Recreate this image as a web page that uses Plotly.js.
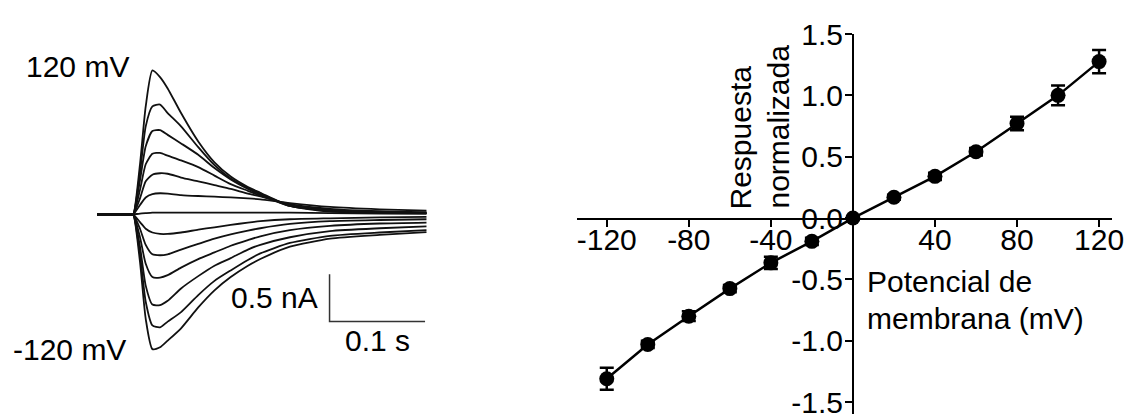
<!DOCTYPE html>
<html>
<head>
<meta charset="utf-8">
<script src="https://cdn.plot.ly/plotly-3.0.1.min.js"></script>
<style>
  html, body { margin: 0; padding: 0; background: #ffffff; }
  #chart { width: 1126px; height: 414px; }
</style>
</head>
<body>
<div id="chart"></div>
<script>
// ---------- Left panel: current traces (time in s, current in nA) ----------
const timeS = [-0.038, -0.002, 0, 0.007, 0.013, 0.02, 0.028, 0.036, 0.05, 0.068, 0.085, 0.102, 0.12, 0.133, 0.164, 0.206, 0.258, 0.307];
const stepLabels = ['120 mV', '100 mV', '80 mV', '60 mV', '40 mV', '20 mV', '0 mV', '-20 mV', '-40 mV', '-60 mV', '-80 mV', '-100 mV', '-120 mV'];
const iP120 = [0, 0, 0, 0.53, 1.14, 1.52, 1.45, 1.33, 1.07, 0.77, 0.55, 0.40, 0.29, 0.23, 0.09, 0.03, 0.015, 0.01];
const iP100 = [0, 0, 0, 0.44, 0.93, 1.14, 1.16, 1.07, 0.93, 0.71, 0.52, 0.38, 0.28, 0.22, 0.09, 0.04, 0.02, 0.015];
const iP80  = [0, 0, 0, 0.36, 0.72, 0.88, 0.89, 0.84, 0.75, 0.63, 0.49, 0.37, 0.27, 0.21, 0.09, 0.04, 0.02, 0.015];
const iP60  = [0, 0, 0, 0.26, 0.53, 0.64, 0.65, 0.62, 0.57, 0.50, 0.41, 0.32, 0.25, 0.20, 0.10, 0.05, 0.025, 0.015];
const iP40  = [0, 0, 0, 0.17, 0.35, 0.42, 0.435, 0.43, 0.39, 0.35, 0.31, 0.27, 0.22, 0.19, 0.11, 0.06, 0.035, 0.025];
const iP20  = [0, 0, 0, 0.10, 0.18, 0.215, 0.224, 0.22, 0.205, 0.195, 0.188, 0.18, 0.17, 0.16, 0.12, 0.08, 0.055, 0.04];
const i0    = [0, 0, 0, 0.01, 0.015, 0.02, 0.02, 0.02, 0.02, 0.02, 0.02, 0.02, 0.02, 0.02, 0.02, 0.015, 0.01, 0.01];
const iN20  = [0, 0, 0, -0.08, -0.15, -0.19, -0.205, -0.205, -0.19, -0.16, -0.135, -0.11, -0.085, -0.07, -0.05, -0.04, -0.03, -0.025];
const iN40  = [0, 0, 0, -0.15, -0.32, -0.42, -0.43, -0.42, -0.37, -0.31, -0.255, -0.21, -0.17, -0.145, -0.10, -0.07, -0.058, -0.05];
const iN60  = [0, 0, 0, -0.24, -0.52, -0.66, -0.665, -0.64, -0.56, -0.47, -0.40, -0.33, -0.27, -0.23, -0.165, -0.12, -0.095, -0.085];
const iN80  = [0, 0, 0, -0.34, -0.75, -0.95, -0.955, -0.91, -0.78, -0.65, -0.54, -0.46, -0.37, -0.32, -0.24, -0.175, -0.145, -0.125];
const iN100 = [0, 0, 0, -0.42, -0.92, -1.17, -1.19, -1.13, -1.03, -0.85, -0.70, -0.59, -0.48, -0.41, -0.30, -0.225, -0.19, -0.165];
const iN120 = [0, 0, 0, -0.50, -1.10, -1.42, -1.40, -1.33, -1.20, -0.98, -0.80, -0.66, -0.54, -0.47, -0.34, -0.255, -0.215, -0.185];
const traceSeries = [iP120, iP100, iP80, iP60, iP40, iP20, i0, iN20, iN40, iN60, iN80, iN100, iN120];

// scale bar (0.5 nA vertical, 0.1 s horizontal)
const scaleBarT = [0.2055, 0.2055, 0.3055];
const scaleBarI = [-0.63, -1.13, -1.13];

// ---------- Right panel: I-V relation ----------
const membranePotential = [-120, -100, -80, -60, -40, -20, 0, 20, 40, 60, 80, 100, 120];
const normalizedResponse = [-1.31, -1.03, -0.80, -0.575, -0.365, -0.19, 0, 0.17, 0.34, 0.54, 0.77, 1.0, 1.275];
const responseSEM = [0.09, 0.03, 0.04, 0.03, 0.05, 0.03, 0.01, 0.02, 0.03, 0.03, 0.055, 0.08, 0.095];
const xTickVals = [-120, -80, -40, 40, 80, 120];
const yTickVals = [-1.5, -1.0, -0.5, 0.0, 0.5, 1.0, 1.5];

const W = 1126, H = 414;
const FONT = 'Liberation Sans, Arial, Helvetica, sans-serif';
const px = v => v / W;          // pixel x -> paper
const py = v => 1 - v / H;      // pixel y -> paper

const data = [];
traceSeries.forEach((s, k) => {
  data.push({
    type: 'scatter', mode: 'lines', x: timeS, y: s, name: stepLabels[k],
    xaxis: 'x', yaxis: 'y',
    line: { color: '#111111', width: 1.8, shape: 'spline', smoothing: 0.6 },
    hoverinfo: 'skip', showlegend: false
  });
});
data.push({
  type: 'scatter', mode: 'lines', x: scaleBarT, y: scaleBarI,
  xaxis: 'x', yaxis: 'y', line: { color: '#333333', width: 1.5 },
  hoverinfo: 'skip', showlegend: false
});
data.push({
  type: 'scatter', mode: 'lines+markers', x: membranePotential, y: normalizedResponse,
  xaxis: 'x2', yaxis: 'y2',
  line: { color: '#000000', width: 2.5 },
  marker: { color: '#000000', size: 15, symbol: 'circle' },
  error_y: { type: 'data', array: responseSEM, visible: true, color: '#000000', thickness: 2.5, width: 7 },
  cliponaxis: false, showlegend: false
});

// time mapping: onset at px 133.3, 955 px per s ; current: baseline px 214.5, 94.8 px per nA
const leftDomPx = [0, 440];
const tRange = [(leftDomPx[0] - 133.3) / 955, (leftDomPx[1] - 133.3) / 955];
const iRange = [-(H - 214.5) / 94.8, 214.5 / 94.8];

const tickFont = { family: FONT, size: 30, color: '#000000' };

const layout = {
  width: W, height: H, autosize: false,
  margin: { l: 0, r: 0, t: 0, b: 0, pad: 0 },
  paper_bgcolor: '#ffffff', plot_bgcolor: 'rgba(0,0,0,0)',
  showlegend: false,
  font: { family: FONT, size: 30, color: '#000000' },
  xaxis: { domain: [px(leftDomPx[0]), px(leftDomPx[1])], range: tRange, visible: false, fixedrange: true },
  yaxis: { domain: [0, 1], range: iRange, visible: false, fixedrange: true },
  xaxis2: {
    domain: [px(577), px(1112)], range: [-134.5, 126.3],
    anchor: 'free', position: py(218.5),
    showline: true, linecolor: '#000000', linewidth: 2,
    showgrid: false, zeroline: false,
    ticks: 'outside', ticklen: 7, tickwidth: 2, tickcolor: '#000000',
    tickmode: 'array', tickvals: xTickVals, ticktext: xTickVals.map(String),
    tickfont: tickFont, ticklabelstandoff: -13, ticklabeloverflow: 'allow', fixedrange: true
  },
  yaxis2: {
    domain: [0, py(34)], range: [-1.597, 1.5],
    anchor: 'free', position: px(853),
    showline: true, linecolor: '#000000', linewidth: 2,
    showgrid: false, zeroline: false,
    ticks: 'outside', ticklen: 7, tickwidth: 2, tickcolor: '#000000',
    tickmode: 'array', tickvals: yTickVals, ticktext: yTickVals.map(v => v.toFixed(1)),
    tickfont: tickFont, ticklabelstandoff: -4, ticklabeloverflow: 'allow', fixedrange: true
  },
  annotations: [
    { text: '120 mV', xref: 'paper', yref: 'paper', x: px(24), y: py(66), xanchor: 'left', yanchor: 'middle', showarrow: false, font: tickFont },
    { text: '-120 mV', xref: 'paper', yref: 'paper', x: px(11), y: py(349), xanchor: 'left', yanchor: 'middle', showarrow: false, font: tickFont },
    { text: '0.5 nA', xref: 'x', yref: 'y', x: 0.196, y: (scaleBarI[0] + scaleBarI[1]) / 2, xanchor: 'right', yanchor: 'middle', showarrow: false, font: tickFont },
    { text: '0.1 s', xref: 'x', yref: 'y', x: (scaleBarT[1] + scaleBarT[2]) / 2, y: -1.33, xanchor: 'center', yanchor: 'middle', showarrow: false, font: tickFont },
    { text: 'Respuesta', xref: 'paper', yref: 'paper', x: px(740), y: py(137.5), xanchor: 'center', yanchor: 'middle', textangle: -90, showarrow: false, font: tickFont },
    { text: 'normalizada', xref: 'paper', yref: 'paper', x: px(778), y: py(126.5), xanchor: 'center', yanchor: 'middle', textangle: -90, showarrow: false, font: tickFont },
    { text: 'Potencial de', xref: 'paper', yref: 'paper', x: px(865), y: py(281), xanchor: 'left', yanchor: 'middle', showarrow: false, font: tickFont },
    { text: 'membrana (mV)', xref: 'paper', yref: 'paper', x: px(865), y: py(318), xanchor: 'left', yanchor: 'middle', showarrow: false, font: tickFont }
  ]
};

Plotly.newPlot('chart', data, layout, { displayModeBar: false, staticPlot: true });
</script>
</body>
</html>
